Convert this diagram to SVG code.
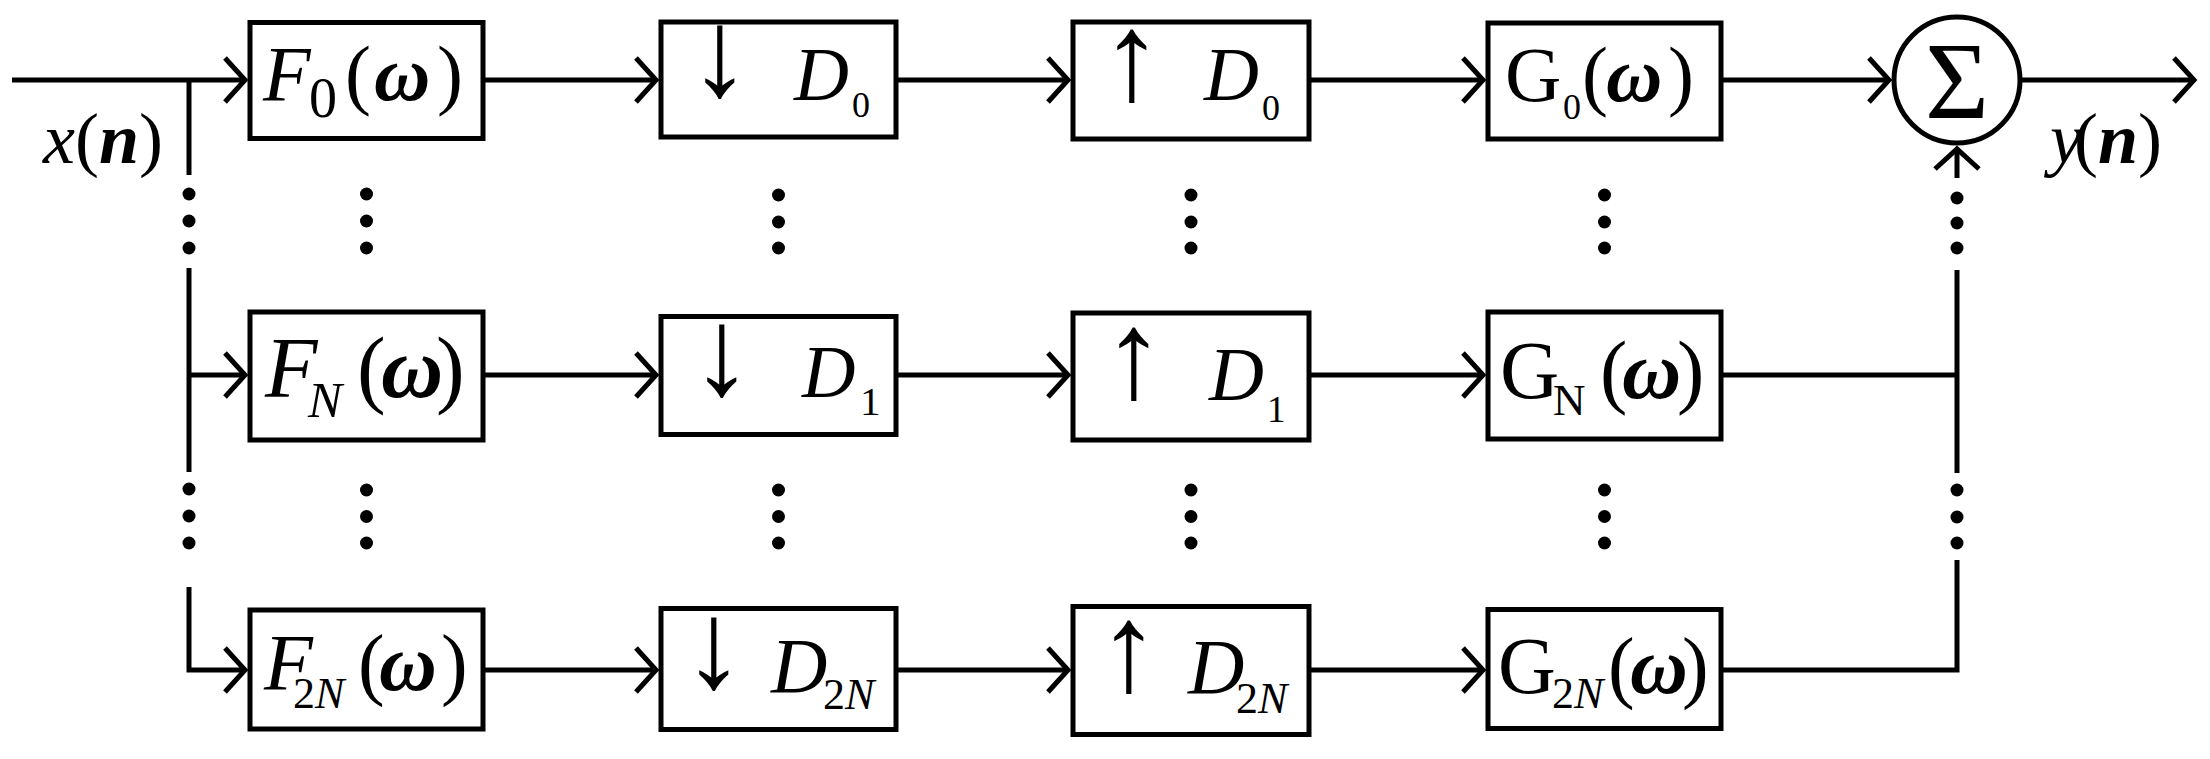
<svg xmlns="http://www.w3.org/2000/svg" width="2210" height="759" viewBox="0 0 2210 759">
<style>
.ln{fill:none;stroke:#000;stroke-width:5;stroke-linejoin:miter}
.box{fill:#fff;stroke:#000;stroke-width:5}
.dot{fill:#000}
text{font-family:"Liberation Serif","Times New Roman",serif;fill:#000}
.i{font-style:italic}
.bi{font-style:italic;font-weight:bold}
.m{text-anchor:middle}
.arr{font-size:124px;text-anchor:middle}
</style>
<defs>
<marker id="ah" markerUnits="userSpaceOnUse" viewBox="-26 -26 32 52" refX="0" refY="0" markerWidth="32" markerHeight="52" orient="auto" overflow="visible">
<path d="M-20,-22 L0,0 L-20,22" fill="none" stroke="#000" stroke-width="5"/>
</marker>
</defs>
<rect width="2210" height="759" fill="#fff"/>
<g id="connectors">
<path class="ln" d="M12,80 H245" marker-end="url(#ah)"/>
<path class="ln" d="M189,80 V175"/>
<path class="ln" d="M189,268 V472"/>
<path class="ln" d="M189,375 H245" marker-end="url(#ah)"/>
<path class="ln" d="M189,587 V670 H245" marker-end="url(#ah)"/>
<path class="ln" d="M483,80 H656" marker-end="url(#ah)"/>
<path class="ln" d="M483,375 H656" marker-end="url(#ah)"/>
<path class="ln" d="M483,670 H656" marker-end="url(#ah)"/>
<path class="ln" d="M896,80 H1068" marker-end="url(#ah)"/>
<path class="ln" d="M896,375 H1068" marker-end="url(#ah)"/>
<path class="ln" d="M896,670 H1068" marker-end="url(#ah)"/>
<path class="ln" d="M1309,80 H1483" marker-end="url(#ah)"/>
<path class="ln" d="M1309,375 H1483" marker-end="url(#ah)"/>
<path class="ln" d="M1309,670 H1483" marker-end="url(#ah)"/>
<path class="ln" d="M1721,80 H1889" marker-end="url(#ah)"/>
<path class="ln" d="M2020,80 H2194" marker-end="url(#ah)"/>
<path class="ln" d="M1957,178 V149" marker-end="url(#ah)"/>
<path class="ln" d="M1957,270 V473"/>
<path class="ln" d="M1721,375 H1957"/>
<path class="ln" d="M1721,670 H1957 V560"/>
<g id="dots">
<circle class="dot" cx="189" cy="194" r="6.5"/><circle class="dot" cx="189" cy="221" r="6.5"/><circle class="dot" cx="189" cy="248" r="6.5"/>
<circle class="dot" cx="189" cy="489" r="6.5"/><circle class="dot" cx="189" cy="516" r="6.5"/><circle class="dot" cx="189" cy="543" r="6.5"/>
<circle class="dot" cx="366.5" cy="194" r="6.5"/><circle class="dot" cx="366.5" cy="221" r="6.5"/><circle class="dot" cx="366.5" cy="248" r="6.5"/>
<circle class="dot" cx="366.5" cy="490" r="6.5"/><circle class="dot" cx="366.5" cy="516.5" r="6.5"/><circle class="dot" cx="366.5" cy="543" r="6.5"/>
<circle class="dot" cx="778.5" cy="195" r="6.5"/><circle class="dot" cx="778.5" cy="222" r="6.5"/><circle class="dot" cx="778.5" cy="248" r="6.5"/>
<circle class="dot" cx="778.5" cy="490" r="6.5"/><circle class="dot" cx="778.5" cy="516.5" r="6.5"/><circle class="dot" cx="778.5" cy="543" r="6.5"/>
<circle class="dot" cx="1191" cy="195" r="6.5"/><circle class="dot" cx="1191" cy="222" r="6.5"/><circle class="dot" cx="1191" cy="248" r="6.5"/>
<circle class="dot" cx="1191" cy="490" r="6.5"/><circle class="dot" cx="1191" cy="516.5" r="6.5"/><circle class="dot" cx="1191" cy="543" r="6.5"/>
<circle class="dot" cx="1604.5" cy="195" r="6.5"/><circle class="dot" cx="1604.5" cy="222" r="6.5"/><circle class="dot" cx="1604.5" cy="248" r="6.5"/>
<circle class="dot" cx="1604.5" cy="490" r="6.5"/><circle class="dot" cx="1604.5" cy="516.5" r="6.5"/><circle class="dot" cx="1604.5" cy="543" r="6.5"/>
<circle class="dot" cx="1957" cy="198" r="6.5"/><circle class="dot" cx="1957" cy="223" r="6.5"/><circle class="dot" cx="1957" cy="248" r="6.5"/>
<circle class="dot" cx="1957" cy="490" r="6.5"/><circle class="dot" cx="1957" cy="517" r="6.5"/><circle class="dot" cx="1957" cy="543" r="6.5"/>
</g>
</g>
<g id="label-x">
<text x="43" y="163" font-size="72"><tspan class="i">x</tspan>(<tspan class="bi">n</tspan>)</text>
</g>
<g id="label-y">
<text x="2050" y="163" font-size="72"><tspan class="i">y</tspan><tspan dx="-8">(</tspan><tspan class="bi">n</tspan>)</text>
</g>
<g id="F0">
<rect class="box" x="250" y="22.5" width="233" height="116"/>
<text font-size="78"><tspan class="i" x="263" y="100">F</tspan><tspan x="309" y="117" font-size="56">0</tspan><tspan x="345" y="100">(</tspan><tspan class="bi" x="374">ω</tspan><tspan x="437">)</tspan></text>
</g>
<g id="FN">
<rect class="box" x="250" y="312" width="233" height="128"/>
<text font-size="86"><tspan class="i" x="265" y="397">F</tspan><tspan class="i" x="308" y="417" font-size="51">N</tspan><tspan x="357" y="397">(</tspan><tspan class="bi" x="381">ω</tspan><tspan x="436">)</tspan></text>
</g>
<g id="F2N">
<rect class="box" x="250" y="610" width="233" height="119"/>
<text font-size="80"><tspan class="i" x="264" y="690">F</tspan><tspan x="293" y="708" font-size="44">2</tspan><tspan class="i" font-size="44">N</tspan><tspan x="358" y="690">(</tspan><tspan class="bi" x="379">ω</tspan><tspan x="441">)</tspan></text>
</g>
<g id="Down0">
<rect class="box" x="661" y="22" width="235" height="115"/>
<text class="arr" x="720" y="95">↓</text>
<text font-size="76"><tspan class="i" x="794" y="100">D</tspan><tspan x="852" y="117" font-size="36">0</tspan></text>
</g>
<g id="Down1">
<rect class="box" x="661" y="316.5" width="235" height="118"/>
<text class="arr" x="722" y="394">↓</text>
<text font-size="74"><tspan class="i" x="802" y="397">D</tspan><tspan x="860" y="415" font-size="41">1</tspan></text>
</g>
<g id="Down2N">
<rect class="box" x="661" y="608.5" width="235" height="121"/>
<text class="arr" x="714" y="687">↓</text>
<text font-size="78"><tspan class="i" x="771" y="692">D</tspan><tspan x="823" y="709" font-size="44">2</tspan><tspan class="i" font-size="44">N</tspan></text>
</g>
<g id="Up0">
<rect class="box" x="1073" y="22" width="236" height="117"/>
<text class="arr" x="1132" y="99">↑</text>
<text font-size="76"><tspan class="i" x="1204" y="100">D</tspan><tspan x="1262" y="120" font-size="36">0</tspan></text>
</g>
<g id="Up1">
<rect class="box" x="1073" y="313" width="236" height="127"/>
<text class="arr" x="1134" y="397">↑</text>
<text font-size="76"><tspan class="i" x="1209" y="400">D</tspan><tspan x="1267" y="422" font-size="37">1</tspan></text>
</g>
<g id="Up2N">
<rect class="box" x="1073" y="606.5" width="236" height="128"/>
<text class="arr" x="1129" y="690">↑</text>
<text font-size="78"><tspan class="i" x="1188" y="693">D</tspan><tspan x="1236" y="713" font-size="44">2</tspan><tspan class="i" font-size="44">N</tspan></text>
</g>
<g id="G0">
<rect class="box" x="1488" y="23" width="233" height="116"/>
<text font-size="78"><tspan x="1505" y="101">G</tspan><tspan x="1563" y="119" font-size="36">0</tspan><tspan x="1582" y="101">(</tspan><tspan class="bi" x="1606">ω</tspan><tspan x="1668">)</tspan></text>
</g>
<g id="GN">
<rect class="box" x="1488" y="312" width="233" height="127"/>
<text font-size="82"><tspan x="1500" y="398">G</tspan><tspan x="1553" y="415" font-size="45">N</tspan><tspan x="1600" y="398">(</tspan><tspan class="bi" x="1622">ω</tspan><tspan x="1677">)</tspan></text>
</g>
<g id="G2N">
<rect class="box" x="1488" y="609.5" width="233" height="119"/>
<text font-size="80"><tspan x="1498" y="693">G</tspan><tspan x="1552" y="708" font-size="44">2</tspan><tspan class="i" font-size="44">N</tspan><tspan x="1608" y="693">(</tspan><tspan class="bi" x="1630">ω</tspan><tspan x="1682">)</tspan></text>
</g>
<g id="Sum">
<circle cx="1957" cy="80" r="63" fill="#fff" stroke="#000" stroke-width="5"/>
<text class="m" x="1957" y="118" font-size="110">Σ</text>
</g>
</svg>
